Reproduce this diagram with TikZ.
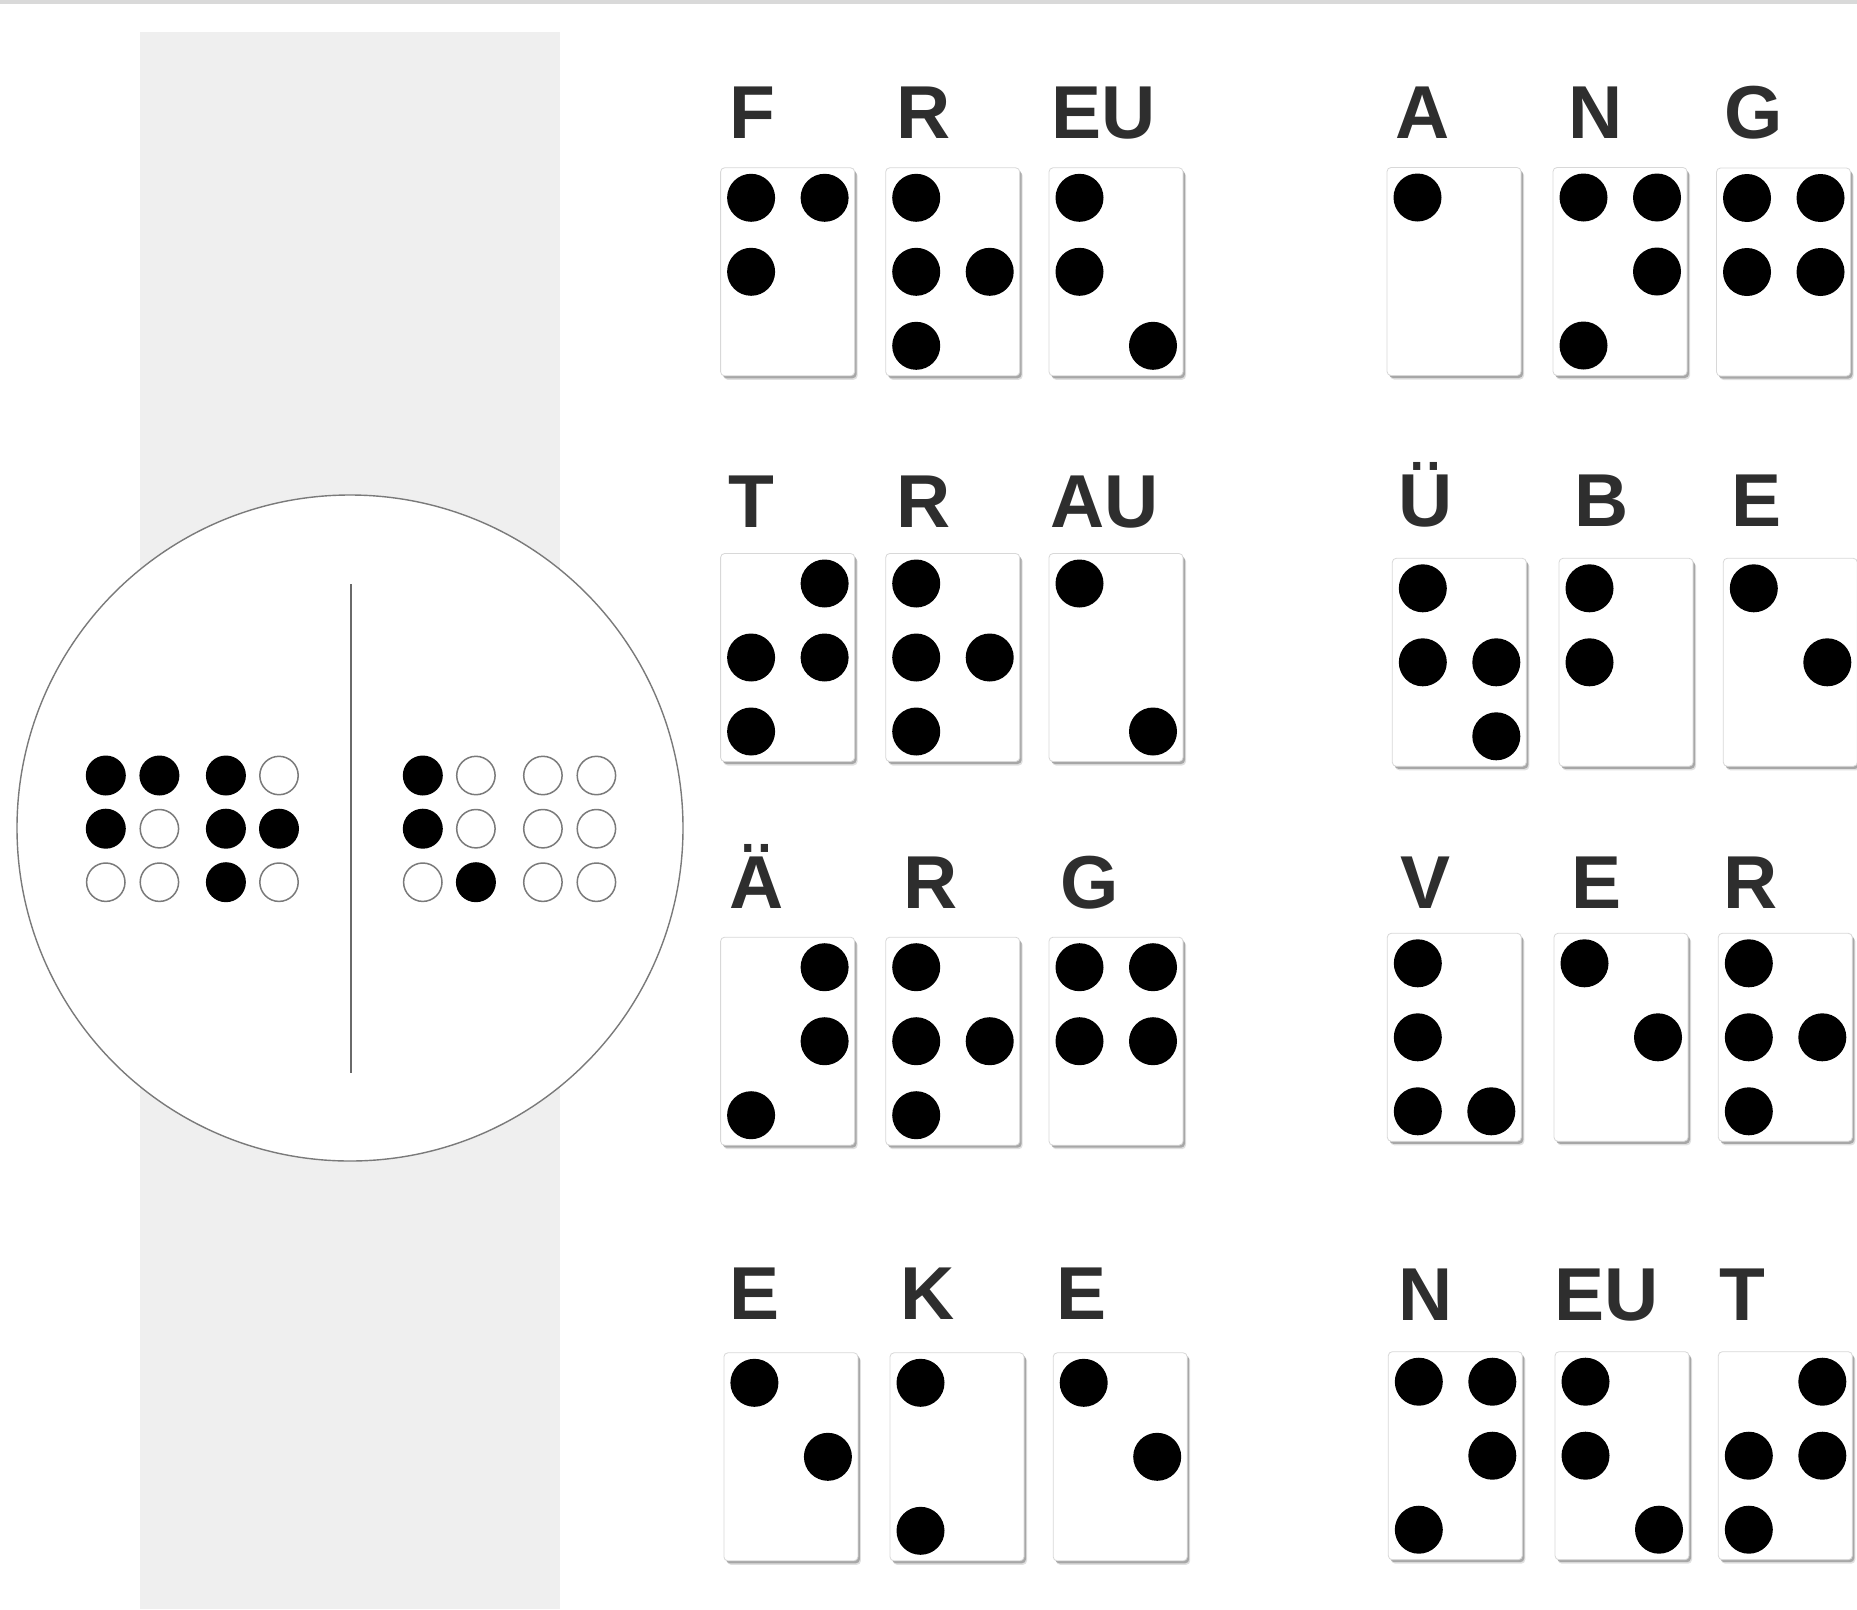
\documentclass[tikz,border=0pt]{standalone}
\usepackage{fontspec}
\newfontfamily\labfont{Liberation Sans}
\usetikzlibrary{shadows}
\definecolor{panelgray}{HTML}{EFEFEF}
\definecolor{topbar}{HTML}{D9D9D9}
\definecolor{labcol}{HTML}{2E2E2E}
\definecolor{ringcol}{HTML}{7A7A7A}
\definecolor{cardedge}{HTML}{D8D8D8}
\definecolor{linecol}{HTML}{6A6A6A}
\tikzset{
  card/.style={draw=cardedge, line width=0.8pt, fill=white, rounded corners=4pt,
    minimum width=134pt, minimum height=208pt, anchor=north west, inner sep=0pt, outer sep=0pt,
    drop shadow={shadow xshift=3pt, shadow yshift=-4pt, opacity=0.12, fill=black},
    drop shadow={shadow xshift=2pt, shadow yshift=-2.5pt, opacity=0.25, fill=black}},
  lab/.style={font=\labfont\bfseries\fontsize{75}{75}\selectfont, text=labcol,
    inner sep=0pt, outer sep=0pt, anchor=base west},
  bigdot/.style={fill=black},
  fulldot/.style={fill=black},
  opendot/.style={draw=ringcol, line width=1.5pt, fill=white},
  disc/.style={circle, draw=ringcol, line width=1.4pt, fill=white, minimum size=666pt, inner sep=0pt},
  divider/.style={draw=linecol, line width=1.4pt}
}
\newcommand\bcard[4]{%
  \node[card] (#1) at (#2,#3) {};
  \foreach \bx/\by in {#4} {\fill[bigdot] ({#2+30.5+73.5*(\bx-1)},{#3+30+74*(\by-1)}) circle[radius=24pt];}
}
\begin{document}
\begin{tikzpicture}[x=1pt,y=-1pt]
\useasboundingbox (0,0) rectangle (1857,1609);
\fill[white] (0,0) rectangle (1857,1609);
\fill[topbar] (0,0) rectangle (1857,4);
\fill[panelgray] (140,32) rectangle (560,1609);

% watch face
\node[disc] (face) at (350,828) {};
\coordinate (vt) at (351,584);
\coordinate (vb) at (351,1073);
\draw[divider] (vt) -- (vb);

% braille cells on the face: raised dots
\foreach \px/\py in {
  105.8/775.5, 159.4/775.5, 225.9/775.5,
  105.8/828.7, 225.9/828.7, 279/828.7,
  225.9/882.2,
  422.8/775.5, 422.8/828.7, 475.9/882.2}
  \fill[fulldot] (\px,\py) circle[radius=20pt];
% braille cells on the face: flat dots
\foreach \px/\py in {
  279/775.5, 159.4/828.7, 105.8/882.2, 159.4/882.2, 279/882.2,
  475.9/775.5, 542.9/775.5, 596.4/775.5,
  475.9/828.7, 542.9/828.7, 596.4/828.7,
  422.8/882.2, 542.9/882.2, 596.4/882.2}
  \draw[opendot] (\px,\py) circle[radius=19.2pt];

% row 1
\node[lab] (l1a) at (729.4,138.6) {F};
\node[lab] (l1b) at (896.3,138.6) {R};
\node[lab] (l1c) at (1051,138.6) {EU};
\node[lab] (l1d) at (1395.8,138.6) {A};
\node[lab] (l1e) at (1568.6,138.6) {N};
\node[lab] (l1f) at (1724.7,138.6) {G};
\bcard{c1a}{720.6}{167.8}{1/1,2/1,1/2}
\bcard{c1b}{885.7}{167.8}{1/1,1/2,2/2,1/3}
\bcard{c1c}{1049}{167.8}{1/1,1/2,2/3}
\bcard{c1d}{1387}{167.5}{1/1}
\bcard{c1e}{1553}{167.5}{1/1,2/1,2/2,1/3}
\bcard{c1f}{1716.5}{168}{1/1,2/1,1/2,2/2}

% row 2
\node[lab] (l2a) at (728.9,527) {T};
\node[lab] (l2b) at (896.3,527) {R};
\node[lab] (l2c) at (1050,527) {AU};
\node[lab] (l2d) at (1398.9,526.7) {Ü};
\node[lab] (l2e) at (1574.6,526.7) {B};
\node[lab] (l2f) at (1731.3,526.7) {E};
\bcard{c2a}{720.6}{553.5}{2/1,1/2,2/2,1/3}
\bcard{c2b}{885.7}{553.5}{1/1,1/2,2/2,1/3}
\bcard{c2c}{1049}{553.5}{1/1,2/3}
\bcard{c2d}{1392.3}{558.3}{1/1,1/2,2/2,2/3}
\bcard{c2e}{1559}{558.3}{1/1,1/2}
\bcard{c2f}{1723.3}{558.3}{1/1,2/2}

% row 3
\node[lab] (l3a) at (729.2,908.7) {Ä};
\node[lab] (l3b) at (903.6,908.7) {R};
\node[lab] (l3c) at (1060.5,908.7) {G};
\node[lab] (l3d) at (1400,908.3) {V};
\node[lab] (l3e) at (1571.3,908.3) {E};
\node[lab] (l3f) at (1723.6,908.3) {R};
\bcard{c3a}{720.6}{937.2}{2/1,2/2,1/3}
\bcard{c3b}{885.7}{937.2}{1/1,1/2,2/2,1/3}
\bcard{c3c}{1049}{937.2}{1/1,2/1,1/2,2/2}
\bcard{c3d}{1387.3}{933.3}{1/1,1/2,1/3,2/3}
\bcard{c3e}{1554}{933.3}{1/1,2/2}
\bcard{c3f}{1718.3}{933.3}{1/1,1/2,2/2,1/3}

% row 4
\node[lab] (l4a) at (729.4,1319.6) {E};
\node[lab] (l4b) at (900.2,1319.6) {K};
\node[lab] (l4c) at (1056.1,1319.6) {E};
\node[lab] (l4d) at (1398.9,1320) {N};
\node[lab] (l4e) at (1554.6,1320) {EU};
\node[lab] (l4f) at (1719.4,1320) {T};
\bcard{c4a}{723.9}{1352.8}{1/1,2/2}
\bcard{c4b}{890}{1352.8}{1/1,1/3}
\bcard{c4c}{1053.2}{1352.8}{1/1,2/2}
\bcard{c4d}{1388.3}{1351.7}{1/1,2/1,2/2,1/3}
\bcard{c4e}{1555}{1351.7}{1/1,1/2,2/3}
\bcard{c4f}{1718.3}{1351.7}{2/1,1/2,2/2,1/3}
\end{tikzpicture}
\end{document}
